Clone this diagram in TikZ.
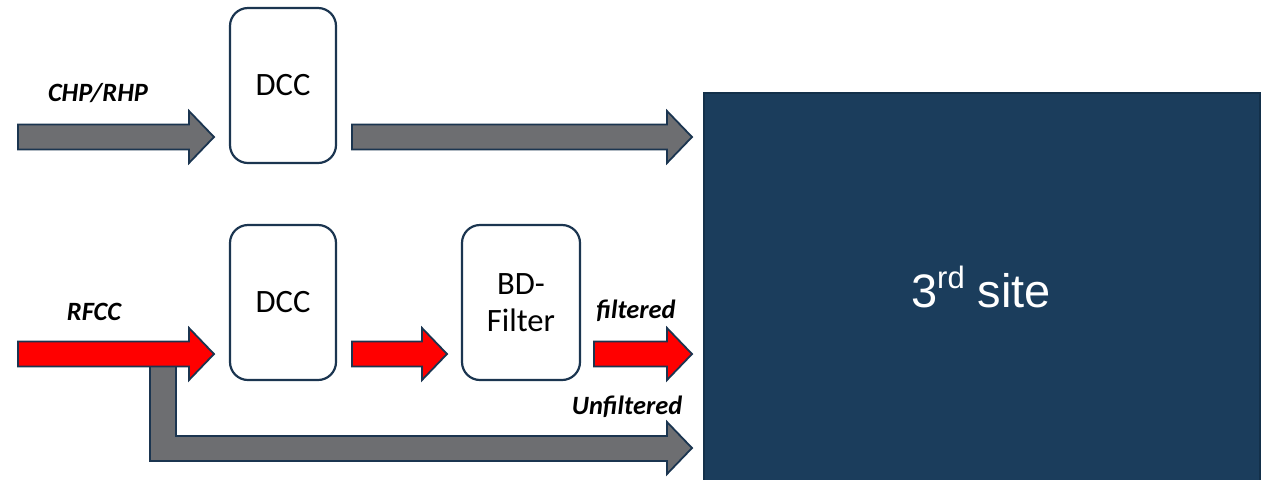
\documentclass[tikz,border=0pt]{standalone}
\usepackage{fontspec}
\setmainfont{Carlito}
\newfontfamily\arialfont{Liberation Sans}
\definecolor{edge}{HTML}{1B3550}
\definecolor{flowgrey}{HTML}{6D6E71}
\definecolor{flowred}{HTML}{FF0000}
\definecolor{sitefill}{HTML}{1B3D5C}
\definecolor{siteedge}{HTML}{13304A}
% block arrow: style, start x, tip x, centre y (units are pixels)
\newcommand{\flowarrow}[4]{%
  \filldraw[#1] (#2,{#4-12.5}) -- ({#3-25},{#4-12.5}) -- ({#3-25},{#4-26})
    -- (#3,#4) -- ({#3-25},{#4+26}) -- ({#3-25},{#4+12.5}) -- (#2,{#4+12.5}) -- cycle;}
\begin{document}
\begin{tikzpicture}[x=0.5pt,y=-0.5pt,
  stage/.style={draw=edge,line width=1.1pt,fill=white,rounded corners=9pt,
    minimum width=53pt,minimum height=77.5pt,font=\fontsize{16.3}{19}\selectfont,align=center},
  tag/.style={font=\fontsize{13.2}{15}\selectfont\bfseries\itshape},
  greyflow/.style={fill=flowgrey,draw=edge,line width=0.9pt},
  redflow/.style={fill=flowred,draw=edge,line width=0.9pt}]
\useasboundingbox (0,0) rectangle (1267,479);

% destination block
\node[draw=siteedge,line width=1.2pt,fill=sitefill,minimum width=278pt,minimum height=195pt,
  anchor=north west,inner sep=0pt] (site) at (703,92) {};
\node[text=white,font=\arialfont\fontsize{23.5}{27}\selectfont] (sitelabel) at (981,287)
  {3\raisebox{0.42em}{\fontsize{15.5}{17}\selectfont rd} site};

% processing stages
\node[stage] (dcctop) at (283,85.5) {DCC};
\node[stage] (dccbot) at (283,302.5) {DCC};
\node[stage,minimum width=59pt,font=\fontsize{16.3}{18.5}\selectfont] (bdf) at (521,302.5) {BD-\\Filter};

% CHP/RHP path
\flowarrow{greyflow}{18}{214}{137}
\flowarrow{greyflow}{352}{692}{137}

% unfiltered branch (L-shaped arrow under the RFCC input)
\filldraw[greyflow] (150,366) -- (176,366) -- (176,436) -- (667,436) -- (667,422)
  -- (692,448) -- (667,474) -- (667,461) -- (150,461) -- cycle;

% RFCC path
\flowarrow{redflow}{18}{214}{354}
\flowarrow{redflow}{352}{447}{354}
\flowarrow{redflow}{594}{692}{354}

% labels
\node[tag] (lchp) at (98,93) {CHP/RHP};
\node[tag] (lrfcc) at (94,312) {RFCC};
\node[tag] (lfilt) at (636,311) {filtered};
\node[tag] (lunf) at (627,407) {Unfiltered};
\end{tikzpicture}
\end{document}
